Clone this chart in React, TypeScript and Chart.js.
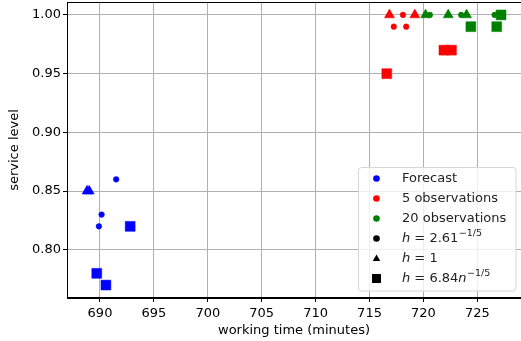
import React, { useEffect, useRef } from "react";
import { Chart, registerables } from "chart.js";
Chart.register(...registerables);

// ---- data ----
const xTicks = [690, 695, 700, 705, 710, 715, 720, 725];
const yTicks = [0.8, 0.85, 0.9, 0.95, 1.0];

const blueCircleX = [691.5, 690.15, 689.9];
const blueCircleY = [0.86, 0.83, 0.82];
const blueTriX = [688.8, 689.0];
const blueTriY = [0.85, 0.85];
const blueSqX = [692.8, 689.7, 690.55];
const blueSqY = [0.82, 0.78, 0.77];

const redCircleX = [718.1, 717.25, 718.4];
const redCircleY = [1.0, 0.99, 0.99];
const redTriX = [716.85, 719.2];
const redTriY = [1.0, 1.0];
const redSqX = [716.6, 721.9, 722.6];
const redSqY = [0.95, 0.97, 0.97];

const greenCircleX = [720.6, 723.5, 726.6];
const greenCircleY = [1.0, 1.0, 1.0];
const greenTriX = [720.2, 722.3, 724.0];
const greenTriY = [1.0, 1.0, 1.0];
const greenSqX = [724.4, 726.8, 727.2];
const greenSqY = [0.99, 0.99, 1.0];

const legendColors = ["Forecast", "5 observations", "20 observations"];

const FONT = "'DejaVu Sans', sans-serif";
const FS = 13;

function pts(xs: number[], ys: number[]) {
  return xs.map((x, i) => ({ x, y: ys[i] }));
}

function ds(xs: number[], ys: number[], color: string, style: string) {
  const r = style === "circle" ? 2.8 : style === "triangle" ? 5.8 : 7;
  return {
    data: pts(xs, ys),
    pointStyle: style,
    pointRadius: r,
    pointBackgroundColor: color,
    pointBorderColor: color,
    pointBorderWidth: 0.5,
    showLine: false,
  };
}

function drawH(ctx: any, x: number, y: number, base: string, sup: string) {
  ctx.fillStyle = "#222";
  ctx.font = `italic ${FS}px ${FONT}`;
  ctx.fillText("h", x, y);
  let cx = x + ctx.measureText("h").width;
  ctx.font = `${FS}px ${FONT}`;
  const eq = " = ";
  ctx.fillText(eq, cx, y);
  cx += ctx.measureText(eq).width;
  if (base.endsWith("n")) {
    const num = base.slice(0, -1);
    ctx.fillText(num, cx, y);
    cx += ctx.measureText(num).width;
    ctx.font = `italic ${FS}px ${FONT}`;
    ctx.fillText("n", cx, y);
    cx += ctx.measureText("n").width;
  } else {
    ctx.fillText(base, cx, y);
    cx += ctx.measureText(base).width;
  }
  if (sup) {
    ctx.font = `9.5px ${FONT}`;
    ctx.fillText(sup, cx + 0.5, y - 5);
  }
}

const framePlugin = {
  id: "frame",
  afterDraw(chart: any) {
    const { ctx, chartArea: a } = chart;
    ctx.save();
    ctx.strokeStyle = "#000";
    ctx.lineWidth = 1;
    ctx.beginPath();
    ctx.moveTo(a.right + 5, a.top + 0.5);
    ctx.lineTo(a.left + 0.5, a.top + 0.5);
    ctx.lineTo(a.left + 0.5, a.bottom - 0.5);
    ctx.lineTo(a.right + 5, a.bottom - 0.5);
    ctx.stroke();

    // legend
    const bx = 358.5, by = 167.5, bw = 157.5, bh = 123.5;
    ctx.fillStyle = "rgba(255,255,255,0.8)";
    ctx.strokeStyle = "#d6d6d6";
    ctx.beginPath();
    const rr = 3;
    ctx.moveTo(bx + rr, by);
    ctx.arcTo(bx + bw, by, bx + bw, by + bh, rr);
    ctx.arcTo(bx + bw, by + bh, bx, by + bh, rr);
    ctx.arcTo(bx, by + bh, bx, by, rr);
    ctx.arcTo(bx, by, bx + bw, by, rr);
    ctx.closePath();
    ctx.fill();
    ctx.stroke();

    const colors = ["#0000ff", "#ff0000", "#008000"];
    const mx = 376.5, tx = 402;
    let y = 178.5;
    ctx.textBaseline = "middle";
    for (let i = 0; i < 3; i++) {
      ctx.fillStyle = colors[i];
      ctx.beginPath();
      ctx.arc(mx, y, 3.3, 0, Math.PI * 2);
      ctx.fill();
      ctx.fillStyle = "#222";
      ctx.font = `${FS}px ${FONT}`;
      ctx.fillText(legendColors[i], tx, y);
      y += 20;
    }
    ctx.fillStyle = "#000";
    ctx.beginPath();
    ctx.arc(mx, y, 3.3, 0, Math.PI * 2);
    ctx.fill();
    drawH(ctx, tx, y, "2.61", "−1/5");
    y += 20;
    ctx.fillStyle = "#000";
    ctx.beginPath();
    ctx.moveTo(mx, y - 4);
    ctx.lineTo(mx + 3.8, y + 2.5);
    ctx.lineTo(mx - 3.8, y + 2.5);
    ctx.closePath();
    ctx.fill();
    drawH(ctx, tx, y, "1", "");
    y += 20;
    ctx.fillStyle = "#000";
    ctx.fillRect(mx - 4.5, y - 4.5, 9, 9);
    drawH(ctx, tx, y, "6.84n", "−1/5");
    ctx.restore();
  },
};

function zeroPad(s: any) {
  s.paddingLeft = 0;
  s.paddingRight = 0;
  s.paddingTop = 0;
  s.paddingBottom = 0;
}

export default function App() {
  const ref = useRef<HTMLCanvasElement>(null);
  useEffect(() => {
    document.body.style.margin = "0";
    const chart = new Chart(ref.current!, {
      type: "scatter",
      data: {
        datasets: [
          ds(blueCircleX, blueCircleY, "#0000ff", "circle"),
          ds(blueTriX, blueTriY, "#0000ff", "triangle"),
          ds(blueSqX, blueSqY, "#0000ff", "rect"),
          ds(redCircleX, redCircleY, "#ff0000", "circle"),
          ds(redTriX, redTriY, "#ff0000", "triangle"),
          ds(redSqX, redSqY, "#ff0000", "rect"),
          ds(greenCircleX, greenCircleY, "#008000", "circle"),
          ds(greenTriX, greenTriY, "#008000", "triangle"),
          ds(greenSqX, greenSqY, "#008000", "rect"),
        ] as any,
      },
      options: {
        responsive: false,
        animation: false,
        clip: false as any,
        layout: { autoPadding: false, padding: { top: 2, right: 0, left: 0, bottom: 0 } },
        plugins: { legend: { display: false }, tooltip: { enabled: false } },
        scales: {
          x: {
            type: "linear",
            min: 686.94,
            max: 729.05,
            afterBuildTicks: (s: any) => {
              s.ticks = xTicks.map((v) => ({ value: v }));
            },
            afterFit: (s: any) => {
              s.height = 43;
              zeroPad(s);
            },
            grid: { color: "#b0b0b0", tickColor: "#000", tickLength: 4, lineWidth: 1 },
            border: { color: "#000" },
            ticks: { color: "#000", font: { family: FONT, size: FS }, padding: 4, maxRotation: 0 },
            title: { display: true, text: "working time (minutes)", color: "#000", font: { family: FONT, size: FS }, padding: { top: 0, bottom: 3 } },
          },
          y: {
            type: "linear",
            min: 0.759,
            max: 1.011,
            afterBuildTicks: (s: any) => {
              s.ticks = yTicks.map((v) => ({ value: v }));
            },
            afterFit: (s: any) => {
              s.width = 67;
              zeroPad(s);
            },
            grid: { color: "#b0b0b0", tickColor: "#000", tickLength: 4, lineWidth: 1 },
            border: { color: "#000" },
            ticks: { color: "#000", font: { family: FONT, size: FS }, padding: 2, callback: (v: any) => Number(v).toFixed(2) },
            title: { display: true, text: "service level", color: "#000", font: { family: FONT, size: FS }, padding: { top: 7, bottom: 0 } },
          },
        },
      },
      plugins: [framePlugin],
    });
    return () => chart.destroy();
  }, []);
  return <canvas ref={ref} width={521} height={341} style={{ display: "block" }} />;
}
